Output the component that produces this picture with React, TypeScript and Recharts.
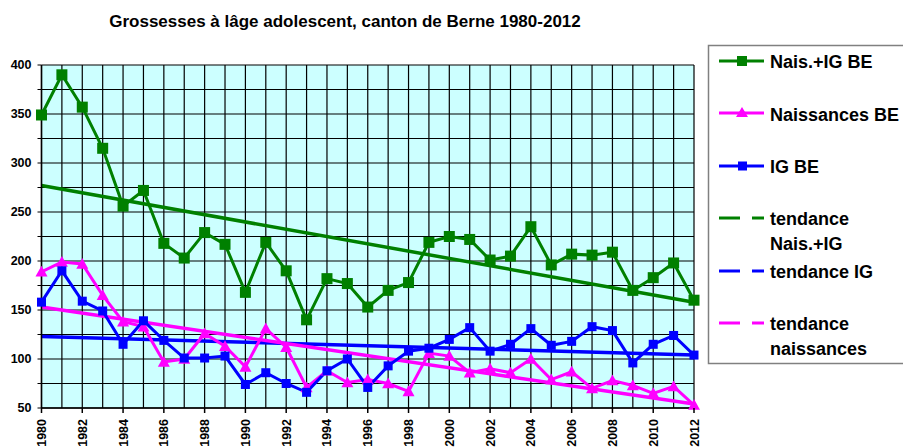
import React from 'react';
import { LineChart, Line, XAxis, YAxis, CartesianGrid } from 'recharts';

const years = [1980, 1981, 1982, 1983, 1984, 1985, 1986, 1987, 1988, 1989, 1990, 1991, 1992, 1993, 1994, 1995, 1996, 1997, 1998, 1999, 2000, 2001, 2002, 2003, 2004, 2005, 2006, 2007, 2008, 2009, 2010, 2011, 2012];
const naisIG = [349, 390, 357, 315, 256, 272, 218, 203, 229, 217, 168, 219, 190, 140, 182, 177, 153, 170, 178, 219, 225, 222, 201, 205, 235, 196, 207, 206, 209, 170, 183, 198, 160];
const naissances = [189, 199, 197, 165, 138, 133, 97, 100, 126, 113, 92, 131, 112, 71, 88, 76, 79, 75, 67, 106, 103, 86, 90, 86, 100, 79, 87, 70, 78, 73, 65, 72, 53];
const ig = [158, 190, 159, 149, 115, 139, 119, 101, 101, 103, 74, 86, 75, 66, 88, 100, 71, 93, 108, 111, 120, 132, 108, 115, 131, 114, 118, 133, 129, 96, 115, 124, 104];
// trend lines: values read at the first and last year
const trendNaisIG = [277, 158];
const trendIG = [123, 104];
const trendNaissances = [153, 54];
const yTicks = [50, 75, 100, 125, 150, 175, 200, 225, 250, 275, 300, 325, 350, 375, 400];

const title = 'Grossesses à lâge adolescent, canton de Berne 1980-2012';

const GREEN = '#008000';
const MAGENTA = '#FF00FF';
const BLUE = '#0000FF';

const data = years.map((y, i) => ({
  year: y,
  naisIG: naisIG[i],
  naissances: naissances[i],
  ig: ig[i],
  tNaisIG: i === 0 ? trendNaisIG[0] : i === years.length - 1 ? trendNaisIG[1] : null,
  tIG: i === 0 ? trendIG[0] : i === years.length - 1 ? trendIG[1] : null,
  tNaiss: i === 0 ? trendNaissances[0] : i === years.length - 1 ? trendNaissances[1] : null,
}));

const squareDot = (size: number, color: string) => (props: any) => {
  const { cx, cy, index } = props;
  if (cx == null || cy == null) return <g key={`s${index}`} />;
  return <rect key={`s${index}`} x={cx - size / 2} y={cy - size / 2} width={size} height={size} fill={color} />;
};

const triangleDot = (props: any) => {
  const { cx, cy, index } = props;
  if (cx == null || cy == null) return <g key={`t${index}`} />;
  const s = 6;
  return <polygon key={`t${index}`} points={`${cx},${cy - s} ${cx + s},${cy + s * 0.8} ${cx - s},${cy + s * 0.8}`} fill={MAGENTA} />;
};

const XTick = (props: any) => {
  const { x, y, payload } = props;
  if (payload.value % 2 !== 0) return <g />;
  const axisY = y - 11;
  const tx = x + 4.5;
  const ty = axisY + 11;
  return (
    <g>
      <line x1={x} x2={x} y1={axisY} y2={axisY + 5} stroke="#000" strokeWidth={1.5} />
      <text x={tx} y={ty} transform={`rotate(-90 ${tx} ${ty})`} textAnchor="end" fontSize={12.5} fontWeight="bold" fill="#000" fontFamily="Liberation Sans, Arial, sans-serif">
        {payload.value}
      </text>
    </g>
  );
};

const legendItems = [
  { label: ['Nais.+IG BE'], color: GREEN, kind: 'square', ly: 61, ty: [68] },
  { label: ['Naissances BE'], color: MAGENTA, kind: 'triangle', ly: 113, ty: [120.5] },
  { label: ['IG BE'], color: BLUE, kind: 'squareSmall', ly: 166, ty: [173] },
  { label: ['tendance', 'Nais.+IG'], color: GREEN, kind: 'dash', ly: 218, ty: [225, 250] },
  { label: ['tendance IG'], color: BLUE, kind: 'dash', ly: 271, ty: [278] },
  { label: ['tendance', 'naissances'], color: MAGENTA, kind: 'dash', ly: 323, ty: [330, 355] },
];

const Overlay = () => (
  <svg width={903} height={448} style={{ position: 'absolute', left: 0, top: 0, pointerEvents: 'none' }} fontFamily="Liberation Sans, Arial, sans-serif">
    <text x={345} y={27} textAnchor="middle" fontSize={17} fontWeight="bold" fill="#000">{title}</text>
    <rect x={708.5} y={45.5} width={300} height={318} fill="#fff" stroke="#808080" strokeWidth={1.5} />
    {legendItems.map((it, i) => (
      <g key={i}>
        {it.kind === 'dash' ? (
          <g>
            <line x1={719} x2={740} y1={it.ly} y2={it.ly} stroke={it.color} strokeWidth={3} />
            <line x1={752} x2={764} y1={it.ly} y2={it.ly} stroke={it.color} strokeWidth={3} />
          </g>
        ) : (
          <g>
            <line x1={719} x2={764} y1={it.ly} y2={it.ly} stroke={it.color} strokeWidth={3} />
            {it.kind === 'square' && <rect x={737} y={it.ly - 5} width={10} height={10} fill={it.color} />}
            {it.kind === 'squareSmall' && <rect x={738} y={it.ly - 4.5} width={9} height={9} fill={it.color} />}
            {it.kind === 'triangle' && <polygon points={`742,${it.ly - 6} 748,${it.ly + 4} 736,${it.ly + 4}`} fill={it.color} />}
          </g>
        )}
        {it.label.map((l, j) => (
          <text key={j} x={770} y={it.ty[j]} fontSize={18} fontWeight="bold" fill="#000">{l}</text>
        ))}
      </g>
    ))}
  </svg>
);

export default function App() {
  return (
    <div style={{ position: 'absolute', left: 0, top: 0, width: 903, height: 448, background: '#fff', overflow: 'hidden' }}>
      <LineChart width={903} height={448} data={data} margin={{ top: 65, right: 209, bottom: 0, left: 0 }}>
        <CartesianGrid fill="#CCFFFF" stroke="#000" strokeWidth={1.2} />
        <XAxis
          dataKey="year"
          type="number"
          domain={[1980, 2012]}
          ticks={years}
          interval={0}
          height={40}
          tickLine={false}
          tickSize={5}
          tickMargin={6}
          axisLine={{ stroke: '#000', strokeWidth: 1.5 }}
          tick={<XTick />}
        />
        <XAxis xAxisId="top" orientation="top" dataKey="year" type="number" domain={[1980, 2012]} height={0} tick={false} tickLine={false} axisLine={{ stroke: '#808080', strokeWidth: 2 }} />
        <YAxis
          type="number"
          domain={[50, 400]}
          ticks={yTicks}
          interval={0}
          width={41.5}
          tickSize={4}
          tickMargin={6}
          tickLine={{ stroke: '#000' }}
          axisLine={{ stroke: '#000', strokeWidth: 1.5 }}
          tickFormatter={(v: number) => (v % 50 === 0 ? String(v) : '')}
          tick={{ fontSize: 12.5, fontWeight: 'bold', fill: '#000', fontFamily: 'Liberation Sans, Arial, sans-serif' }}
        />
        <YAxis yAxisId="right" orientation="right" domain={[50, 400]} width={0} tick={false} tickLine={false} axisLine={{ stroke: '#808080', strokeWidth: 2 }} />
        <Line dataKey="tNaisIG" stroke={GREEN} strokeWidth={3.5} dot={false} connectNulls isAnimationActive={false} />
        <Line dataKey="tIG" stroke={BLUE} strokeWidth={3.5} dot={false} connectNulls isAnimationActive={false} />
        <Line dataKey="tNaiss" stroke={MAGENTA} strokeWidth={3.5} dot={false} connectNulls isAnimationActive={false} />
        <Line dataKey="naisIG" stroke={GREEN} strokeWidth={3} dot={squareDot(11, GREEN)} isAnimationActive={false} />
        <Line dataKey="naissances" stroke={MAGENTA} strokeWidth={3} dot={triangleDot} isAnimationActive={false} />
        <Line dataKey="ig" stroke={BLUE} strokeWidth={3} dot={squareDot(9, BLUE)} isAnimationActive={false} />
      </LineChart>
      <Overlay />
    </div>
  );
}
